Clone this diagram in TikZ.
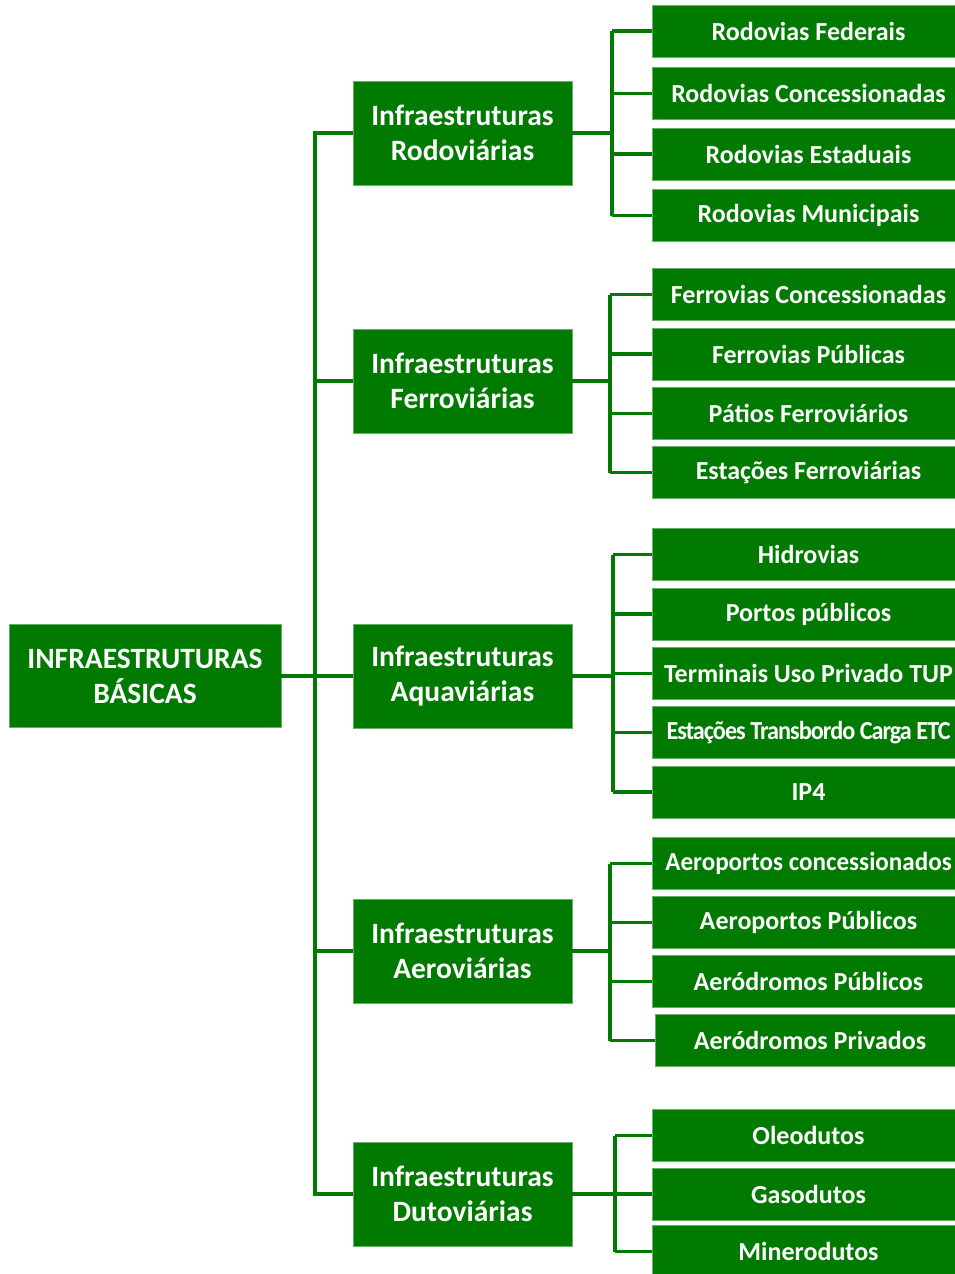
\documentclass[tikz,border=0pt]{standalone}
\usepackage{fontspec}
\usepackage{graphicx}
\setmainfont{Carlito}
\begin{document}
\begin{tikzpicture}[x=1pt,y=-1pt,
  box/.style={fill=infgreen,draw=infgreen!60!white,line width=0.6pt,text=white,font=\bfseries,align=center,inner sep=0pt},
  rootbox/.style={box,minimum width=272pt,minimum height=103pt,font=\bfseries\fontsize{29.5}{35}\selectfont},
  groupbox/.style={box,minimum width=219pt,minimum height=104pt,font=\bfseries\fontsize{29.5}{35}\selectfont},
  leafbox/.style={box,minimum width=303pt,minimum height=52pt,font=\bfseries\fontsize{26}{30}\selectfont,
    execute at begin node={\hspace*{10pt}}},
  link/.style={draw=infgreen,line width=3.5pt}]
\definecolor{infgreen}{HTML}{007A00}
\useasboundingbox (0,0) rectangle (955,1274);

% root and the five groups
\node[rootbox] (root) at (145,676) {INFRAESTRUTURAS\\BÁSICAS};
\node[groupbox] (rodo) at (462.5,133) {Infraestruturas\\Rodoviárias};
\node[groupbox] (ferro) at (462.5,381) {Infraestruturas\\Ferroviárias};
\node[groupbox] (aqua) at (462.5,676) {Infraestruturas\\Aquaviárias};
\node[groupbox] (aero) at (462.5,951) {Infraestruturas\\Aeroviárias};
\node[groupbox] (duto) at (462.5,1194) {Infraestruturas\\Dutoviárias};

% leaves
\node[leafbox] (r1) at (803.5,31) {Rodovias Federais};
\node[leafbox] (r2) at (803.5,93.5) {Rodovias Concessionadas};
\node[leafbox] (r3) at (803.5,154) {Rodovias Estaduais};
\node[leafbox] (r4) at (803.5,215.5) {Rodovias Municipais};

\node[leafbox] (f1) at (803.5,294.5) {Ferrovias Concessionadas};
\node[leafbox] (f2) at (803.5,354) {Ferrovias Públicas};
\node[leafbox] (f3) at (803.5,413.5) {Pátios Ferroviários};
\node[leafbox] (f4) at (803.5,472.5) {Estações Ferroviárias};

\node[leafbox] (a1) at (803.5,554.5) {Hidrovias};
\node[leafbox] (a2) at (803.5,614) {Portos públicos};
\node[leafbox] (a3) at (803.5,673.5) {Terminais Uso Privado TUP};
\node[leafbox] (a4) at (803.5,732.5) {\scalebox{0.93}[1]{\addfontfeature{LetterSpace=-4}Estações Transbordo Carga ETC}};
\node[leafbox] (a5) at (803.5,792) {IP4};

\node[leafbox] (e1) at (803.5,863.5) {\scalebox{0.965}[1]{Aeroportos concessionados}};
\node[leafbox] (e2) at (803.5,922.5) {Aeroportos Públicos};
\node[leafbox] (e3) at (803.5,981.5) {Aeródromos Públicos};
\node[leafbox,minimum width=300pt] (e4) at (805,1040.5) {Aeródromos Privados};

\node[leafbox] (d1) at (803.5,1135.5) {Oleodutos};
\node[leafbox] (d2) at (803.5,1194) {Gasodutos};
\node[leafbox] (d3) at (803.5,1251.5) {Minerodutos};

% trunk from the root to the groups
\coordinate (tt) at (315,133);
\coordinate (tb) at (315,1194);
\draw[link] (root.east) -- (aqua.west);
\draw[link] (rodo.west) -- (tt) -- (tb) -- (duto.west);
\draw[link] (tt|-ferro) -- (ferro.west);
\draw[link] (tt|-aero) -- (aero.west);

% brackets from each group to its leaves
\coordinate (br) at (612,0);
\draw[link] (rodo.east) -- (br|-rodo);
\draw[link] (br|-r1) -- (br|-r4);
\foreach \n in {r1,r2,r3,r4} \draw[link] (br|-\n) -- (\n.west);

\coordinate (bf) at (610,0);
\draw[link] (ferro.east) -- (bf|-ferro);
\draw[link] (bf|-f1) -- (bf|-f4);
\foreach \n in {f1,f2,f3,f4} \draw[link] (bf|-\n) -- (\n.west);

\coordinate (ba) at (613,0);
\draw[link] (aqua.east) -- (ba|-aqua);
\draw[link] (ba|-a1) -- (ba|-a5);
\foreach \n in {a1,a2,a3,a4,a5} \draw[link] (ba|-\n) -- (\n.west);

\coordinate (be) at (610,0);
\draw[link] (aero.east) -- (be|-aero);
\draw[link] (be|-e1) -- (be|-e4);
\foreach \n in {e1,e2,e3,e4} \draw[link] (be|-\n) -- (\n.west);

\coordinate (bd) at (615,0);
\draw[link] (duto.east) -- (bd|-duto);
\draw[link] (bd|-d1) -- (bd|-d3);
\foreach \n in {d1,d2,d3} \draw[link] (bd|-\n) -- (\n.west);
\end{tikzpicture}
\end{document}
